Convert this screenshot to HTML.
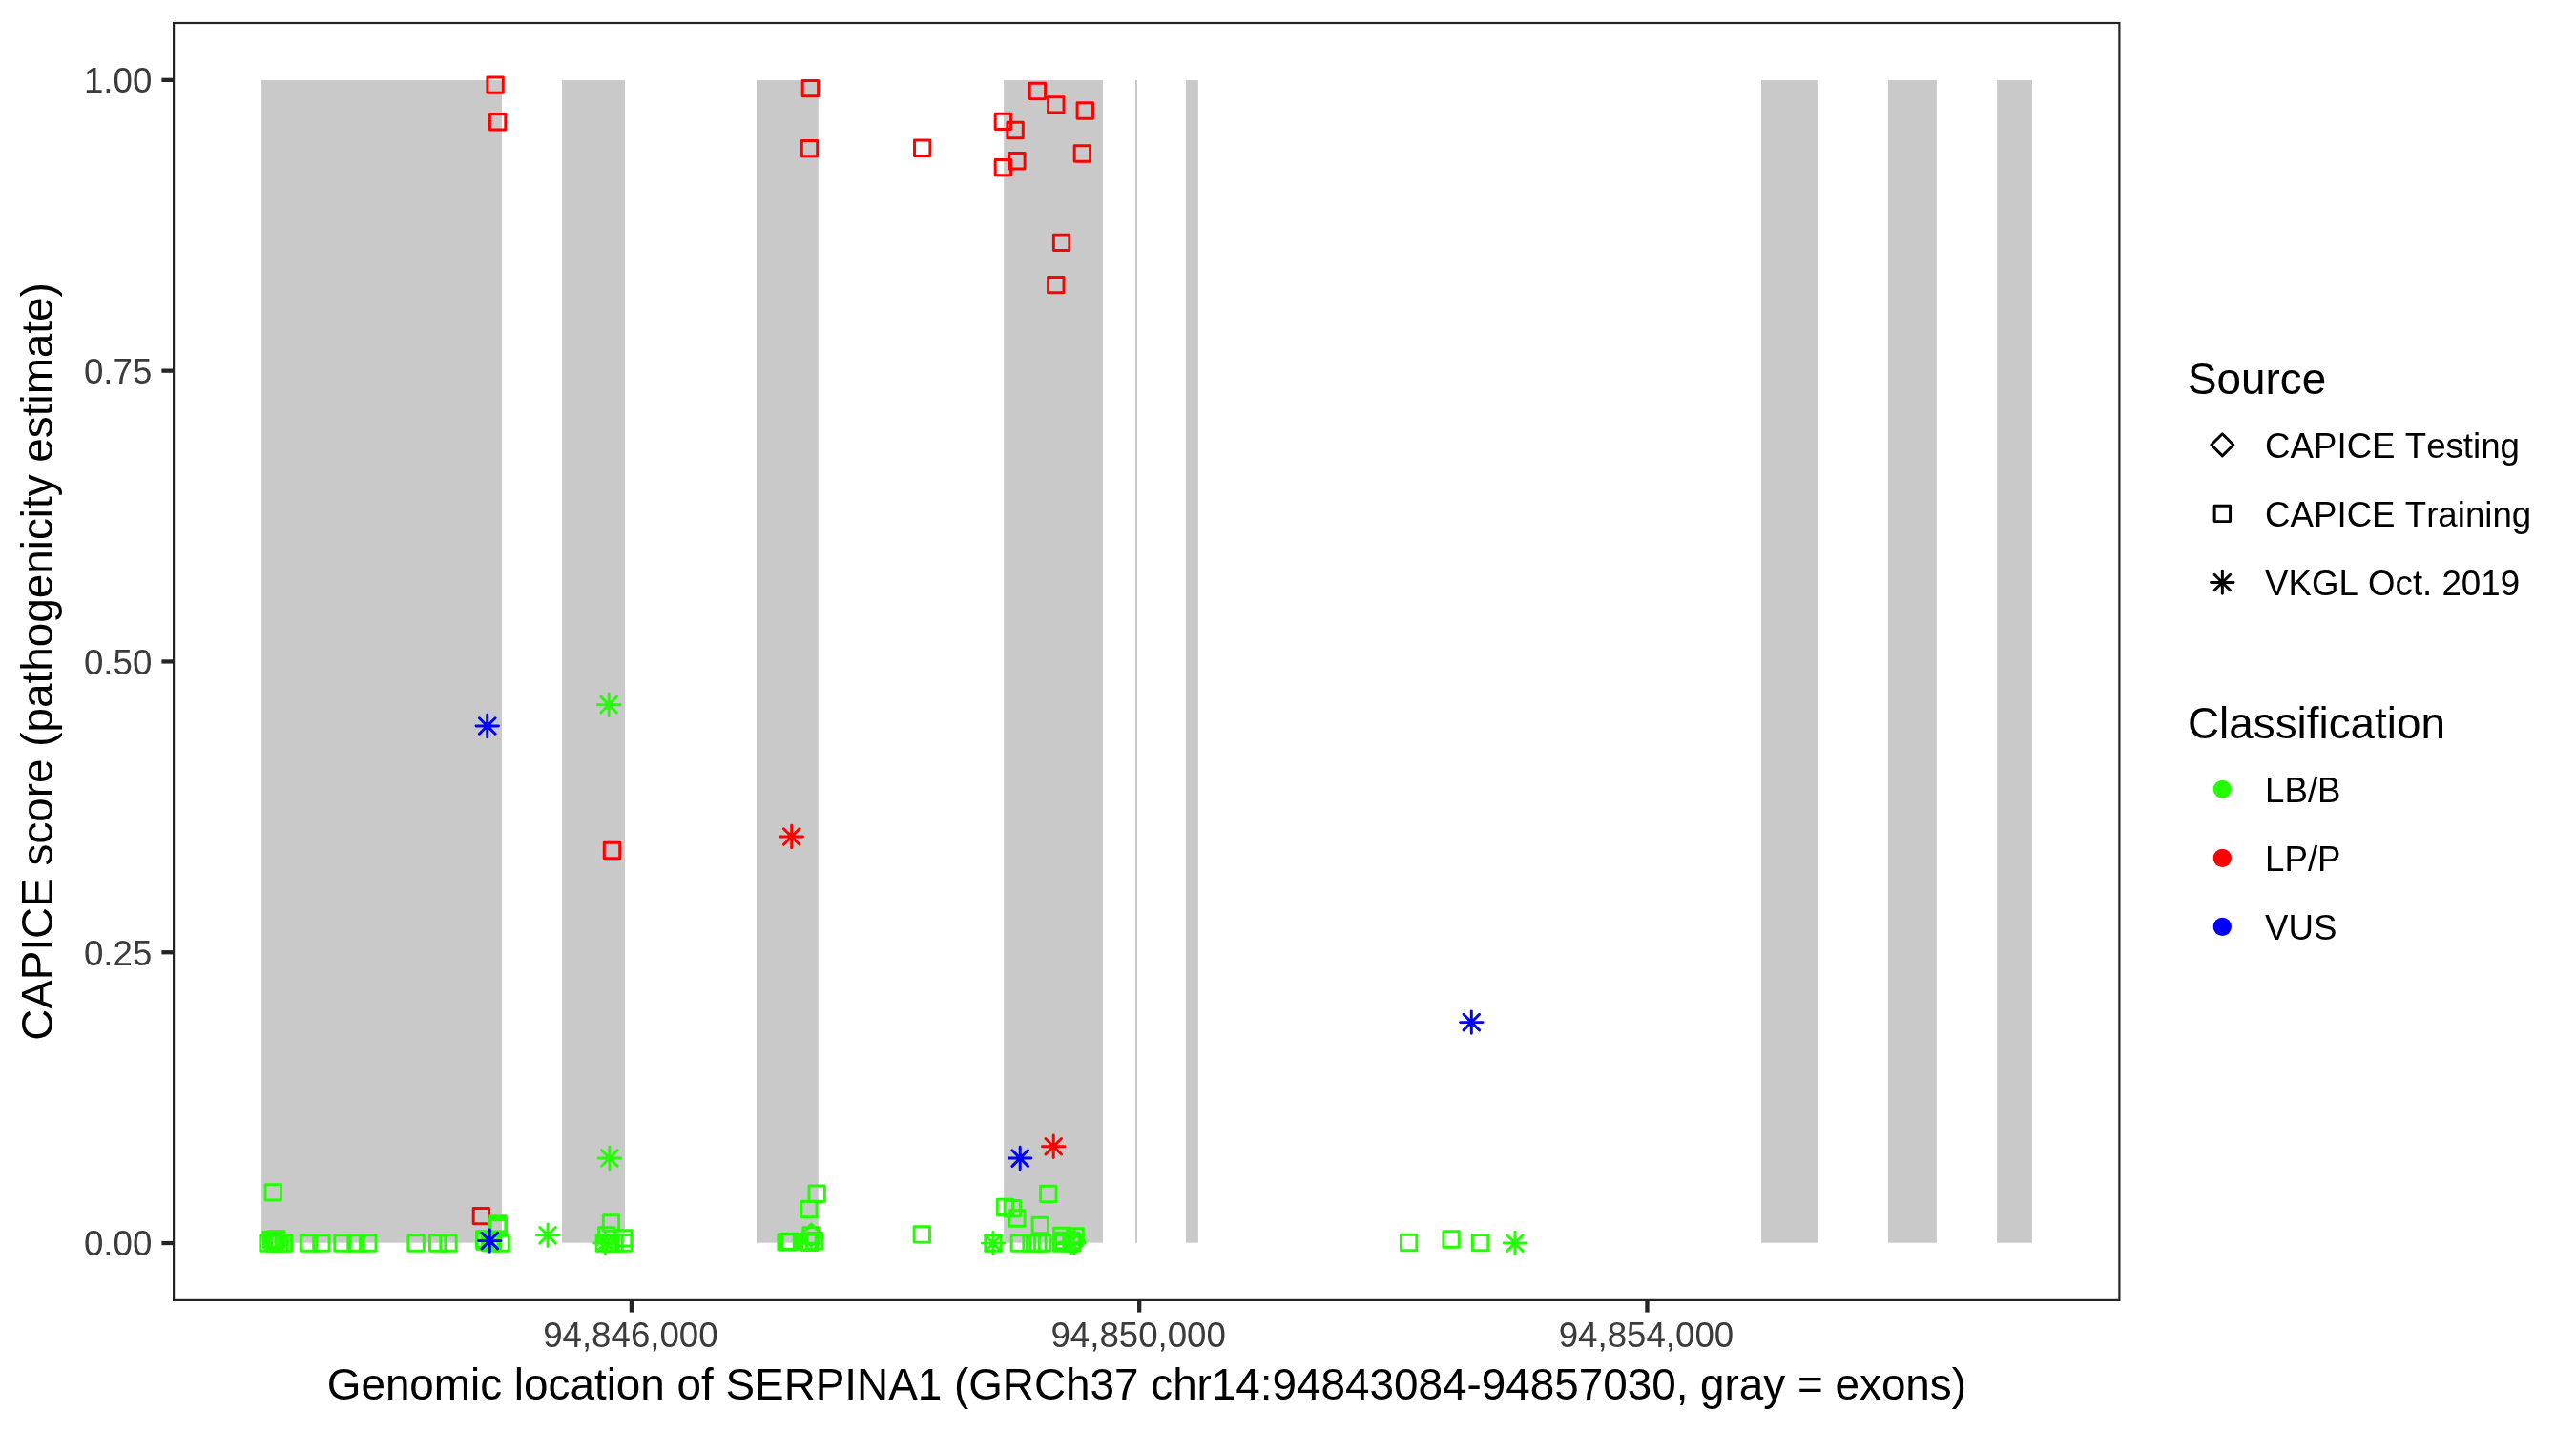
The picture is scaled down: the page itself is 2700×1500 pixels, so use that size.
<!DOCTYPE html>
<html lang="en"><head><meta charset="utf-8"><title>CAPICE score SERPINA1</title>
<style>html,body{margin:0;padding:0;background:#fff}svg{display:block}text{filter:grayscale(1);font-kerning:none}text{font-family:"Liberation Sans",Arial,Helvetica,sans-serif}.at{font-size:36.67px;fill:#3B3B3B}.ti{font-size:45.83px;fill:#000}.lt{font-size:36.67px;fill:#000}.p *{fill:none;stroke-width:2.95;stroke-linejoin:round;stroke-linecap:round}</style></head><body>
<svg width="2700" height="1500" viewBox="0 0 2700 1500">
<rect width="2700" height="1500" fill="#fff"/>
<g fill="#C9C9C9">
<rect x="274.1" y="84.05" width="251.85" height="1218.65"/>
<rect x="589.05" y="84.05" width="65.90" height="1218.65"/>
<rect x="793.0" y="84.05" width="64.75" height="1218.65"/>
<rect x="1052.15" y="84.05" width="103.85" height="1218.65"/>
<rect x="1190.0" y="84.05" width="2.00" height="1218.65"/>
<rect x="1243.0" y="84.05" width="12.90" height="1218.65"/>
<rect x="1846.0" y="84.05" width="59.90" height="1218.65"/>
<rect x="1979.0" y="84.05" width="50.90" height="1218.65"/>
<rect x="2093.1" y="84.05" width="36.85" height="1218.65"/>
</g>
<g class="p">
<rect x="496.20" y="1266.40" width="16.40" height="16.40" stroke="#FF0000"/>
<rect x="278.10" y="1241.60" width="16.40" height="16.40" stroke="#21FF00"/>
<rect x="272.85" y="1294.80" width="16.40" height="16.40" stroke="#21FF00"/>
<rect x="276.10" y="1291.30" width="16.40" height="16.40" stroke="#21FF00"/>
<rect x="278.80" y="1293.00" width="16.40" height="16.40" stroke="#21FF00"/>
<rect x="279.55" y="1294.80" width="16.40" height="16.40" stroke="#21FF00"/>
<rect x="281.75" y="1290.65" width="16.40" height="16.40" stroke="#21FF00"/>
<rect x="284.90" y="1294.80" width="16.40" height="16.40" stroke="#21FF00"/>
<rect x="289.15" y="1294.80" width="16.40" height="16.40" stroke="#21FF00"/>
<rect x="315.30" y="1294.80" width="16.40" height="16.40" stroke="#21FF00"/>
<rect x="328.70" y="1294.80" width="16.40" height="16.40" stroke="#21FF00"/>
<rect x="350.80" y="1294.80" width="16.40" height="16.40" stroke="#21FF00"/>
<rect x="364.80" y="1294.80" width="16.40" height="16.40" stroke="#21FF00"/>
<rect x="377.60" y="1294.80" width="16.40" height="16.40" stroke="#21FF00"/>
<rect x="427.90" y="1294.80" width="16.40" height="16.40" stroke="#21FF00"/>
<rect x="450.40" y="1294.80" width="16.40" height="16.40" stroke="#21FF00"/>
<rect x="461.80" y="1294.80" width="16.40" height="16.40" stroke="#21FF00"/>
<rect x="513.80" y="1274.60" width="16.40" height="16.40" stroke="#21FF00"/>
<rect x="513.80" y="1276.70" width="16.40" height="16.40" stroke="#21FF00"/>
<rect x="513.80" y="1278.80" width="16.40" height="16.40" stroke="#21FF00"/>
<rect x="499.50" y="1290.70" width="16.40" height="16.40" stroke="#21FF00"/>
<rect x="499.70" y="1292.80" width="16.40" height="16.40" stroke="#21FF00"/>
<rect x="505.50" y="1294.30" width="16.40" height="16.40" stroke="#21FF00"/>
<rect x="507.00" y="1294.30" width="16.40" height="16.40" stroke="#21FF00"/>
<rect x="508.40" y="1294.30" width="16.40" height="16.40" stroke="#21FF00"/>
<rect x="516.90" y="1294.80" width="16.40" height="16.40" stroke="#21FF00"/>
<rect x="632.30" y="1273.80" width="16.40" height="16.40" stroke="#21FF00"/>
<rect x="627.58" y="1286.74" width="16.40" height="16.40" stroke="#21FF00"/>
<rect x="645.78" y="1289.65" width="16.40" height="16.40" stroke="#21FF00"/>
<rect x="645.58" y="1294.80" width="16.40" height="16.40" stroke="#21FF00"/>
<rect x="625.19" y="1294.80" width="16.40" height="16.40" stroke="#21FF00"/>
<rect x="631.70" y="1294.80" width="16.40" height="16.40" stroke="#21FF00"/>
<rect x="635.80" y="1294.80" width="16.40" height="16.40" stroke="#21FF00"/>
<rect x="848.00" y="1243.00" width="16.40" height="16.40" stroke="#21FF00"/>
<rect x="839.60" y="1259.25" width="16.40" height="16.40" stroke="#21FF00"/>
<rect x="815.86" y="1293.60" width="16.40" height="16.40" stroke="#21FF00"/>
<rect x="817.80" y="1293.40" width="16.40" height="16.40" stroke="#21FF00"/>
<rect x="819.54" y="1293.20" width="16.40" height="16.40" stroke="#21FF00"/>
<rect x="841.87" y="1286.80" width="16.40" height="16.40" stroke="#21FF00"/>
<rect x="838.75" y="1293.70" width="16.40" height="16.40" stroke="#21FF00"/>
<rect x="845.50" y="1292.50" width="16.40" height="16.40" stroke="#21FF00"/>
<rect x="840.80" y="1294.00" width="16.40" height="16.40" stroke="#21FF00"/>
<rect x="958.10" y="1285.70" width="16.40" height="16.40" stroke="#21FF00"/>
<rect x="1032.80" y="1294.90" width="16.40" height="16.40" stroke="#21FF00"/>
<rect x="1090.60" y="1243.20" width="16.40" height="16.40" stroke="#21FF00"/>
<rect x="1045.30" y="1257.10" width="16.40" height="16.40" stroke="#21FF00"/>
<rect x="1053.10" y="1258.50" width="16.40" height="16.40" stroke="#21FF00"/>
<rect x="1057.70" y="1268.80" width="16.40" height="16.40" stroke="#21FF00"/>
<rect x="1082.10" y="1276.30" width="16.40" height="16.40" stroke="#21FF00"/>
<rect x="1060.10" y="1294.80" width="16.40" height="16.40" stroke="#21FF00"/>
<rect x="1072.85" y="1294.80" width="16.40" height="16.40" stroke="#21FF00"/>
<rect x="1079.70" y="1294.80" width="16.40" height="16.40" stroke="#21FF00"/>
<rect x="1084.65" y="1294.80" width="16.40" height="16.40" stroke="#21FF00"/>
<rect x="1104.30" y="1294.80" width="16.40" height="16.40" stroke="#21FF00"/>
<rect x="1115.40" y="1294.80" width="16.40" height="16.40" stroke="#21FF00"/>
<rect x="1106.70" y="1292.30" width="16.40" height="16.40" stroke="#21FF00"/>
<rect x="1114.80" y="1292.50" width="16.40" height="16.40" stroke="#21FF00"/>
<rect x="1104.60" y="1287.20" width="16.40" height="16.40" stroke="#21FF00"/>
<rect x="1118.95" y="1287.80" width="16.40" height="16.40" stroke="#21FF00"/>
<rect x="1468.40" y="1294.25" width="16.40" height="16.40" stroke="#21FF00"/>
<rect x="1512.90" y="1290.80" width="16.40" height="16.40" stroke="#21FF00"/>
<rect x="1543.36" y="1294.40" width="16.40" height="16.40" stroke="#21FF00"/>
<path d="M838.80 1294.70L850.40 1306.30L862.00 1294.70L850.40 1283.10Z" stroke="#21FF00"/>
<path d="M1114.20 1302.30L1125.80 1313.90L1137.40 1302.30L1125.80 1290.70Z" stroke="#21FF00"/>
<rect x="510.90" y="80.90" width="16.40" height="16.40" stroke="#FF0000"/>
<rect x="513.40" y="119.50" width="16.40" height="16.40" stroke="#FF0000"/>
<rect x="841.20" y="84.40" width="16.40" height="16.40" stroke="#FF0000"/>
<rect x="840.30" y="147.45" width="16.40" height="16.40" stroke="#FF0000"/>
<rect x="958.50" y="147.00" width="16.40" height="16.40" stroke="#FF0000"/>
<rect x="1079.20" y="87.20" width="16.40" height="16.40" stroke="#FF0000"/>
<rect x="1098.60" y="101.60" width="16.40" height="16.40" stroke="#FF0000"/>
<rect x="1129.10" y="107.80" width="16.40" height="16.40" stroke="#FF0000"/>
<rect x="1043.20" y="119.20" width="16.40" height="16.40" stroke="#FF0000"/>
<rect x="1055.90" y="128.30" width="16.40" height="16.40" stroke="#FF0000"/>
<rect x="1126.20" y="152.80" width="16.40" height="16.40" stroke="#FF0000"/>
<rect x="1057.70" y="160.50" width="16.40" height="16.40" stroke="#FF0000"/>
<rect x="1043.20" y="167.40" width="16.40" height="16.40" stroke="#FF0000"/>
<rect x="1104.40" y="246.10" width="16.40" height="16.40" stroke="#FF0000"/>
<rect x="1098.60" y="290.40" width="16.40" height="16.40" stroke="#FF0000"/>
<rect x="633.30" y="883.30" width="16.40" height="16.40" stroke="#FF0000"/>
<path d="M629.90 730.40L646.50 747.00M629.90 747.00L646.50 730.40M626.45 738.70L649.95 738.70M638.20 726.95L638.20 750.45" stroke="#21FF00"/>
<path d="M630.60 1205.66L647.20 1222.26M630.60 1222.26L647.20 1205.66M627.15 1213.96L650.65 1213.96M638.90 1202.21L638.90 1225.71" stroke="#21FF00"/>
<path d="M565.76 1286.50L582.36 1303.10M565.76 1303.10L582.36 1286.50M562.31 1294.80L585.81 1294.80M574.06 1283.05L574.06 1306.55" stroke="#21FF00"/>
<path d="M626.22 1294.64L642.82 1311.24M626.22 1311.24L642.82 1294.64M622.77 1302.94L646.27 1302.94M634.52 1291.19L634.52 1314.69" stroke="#21FF00"/>
<path d="M1032.70 1294.80L1049.30 1311.40M1032.70 1311.40L1049.30 1294.80M1029.25 1303.10L1052.75 1303.10M1041.00 1291.35L1041.00 1314.85" stroke="#21FF00"/>
<path d="M1113.76 1294.00L1130.36 1310.60M1113.76 1310.60L1130.36 1294.00M1110.31 1302.30L1133.81 1302.30M1122.06 1290.55L1122.06 1314.05" stroke="#21FF00"/>
<path d="M504.60 1292.00L521.20 1308.60M504.60 1308.60L521.20 1292.00M501.15 1300.30L524.65 1300.30M512.90 1288.55L512.90 1312.05" stroke="#21FF00"/>
<path d="M1579.60 1294.75L1596.20 1311.35M1579.60 1311.35L1596.20 1294.75M1576.15 1303.05L1599.65 1303.05M1587.90 1291.30L1587.90 1314.80" stroke="#21FF00"/>
<path d="M821.40 868.70L838.00 885.30M821.40 885.30L838.00 868.70M817.95 877.00L841.45 877.00M829.70 865.25L829.70 888.75" stroke="#FF0000"/>
<path d="M1095.90 1193.46L1112.50 1210.06M1095.90 1210.06L1112.50 1193.46M1092.45 1201.76L1115.95 1201.76M1104.20 1190.01L1104.20 1213.51" stroke="#FF0000"/>
<path d="M502.45 752.70L519.05 769.30M502.45 769.30L519.05 752.70M499.00 761.00L522.50 761.00M510.75 749.25L510.75 772.75" stroke="#0000FF"/>
<path d="M505.00 1292.30L521.60 1308.90M505.00 1308.90L521.60 1292.30M501.55 1300.60L525.05 1300.60M513.30 1288.85L513.30 1312.35" stroke="#0000FF"/>
<path d="M1060.90 1205.76L1077.50 1222.36M1060.90 1222.36L1077.50 1205.76M1057.45 1214.06L1080.95 1214.06M1069.20 1202.31L1069.20 1225.81" stroke="#0000FF"/>
<path d="M1534.00 1063.30L1550.60 1079.90M1534.00 1079.90L1550.60 1063.30M1530.55 1071.60L1554.05 1071.60M1542.30 1059.85L1542.30 1083.35" stroke="#0000FF"/>
</g>
<rect x="182.1" y="24.0" width="2039.3" height="1338.8999999999999" fill="none" stroke="#242424" stroke-width="2.2"/>
<g stroke="#242424" stroke-width="4.3" fill="none">
<path d="M169.40 1303.04H181.5"/>
<path d="M169.40 998.24H181.5"/>
<path d="M169.40 693.44H181.5"/>
<path d="M169.40 388.64H181.5"/>
<path d="M169.40 83.84H181.5"/>
<path d="M661.90 1363.5V1375.60"/>
<path d="M1194.18 1363.5V1375.60"/>
<path d="M1726.46 1363.5V1375.60"/>
</g>
<text class="at" x="159.3" y="1316.34" text-anchor="end">0.00</text>
<text class="at" x="159.3" y="1011.54" text-anchor="end">0.25</text>
<text class="at" x="159.3" y="706.74" text-anchor="end">0.50</text>
<text class="at" x="159.3" y="401.94" text-anchor="end">0.75</text>
<text class="at" x="159.3" y="97.14" text-anchor="end">1.00</text>
<text class="at" x="660.90" y="1411.9" text-anchor="middle">94,846,000</text>
<text class="at" x="1193.18" y="1411.9" text-anchor="middle">94,850,000</text>
<text class="at" x="1725.46" y="1411.9" text-anchor="middle">94,854,000</text>
<text class="ti" x="1201.9" y="1466.6" text-anchor="middle">Genomic location of SERPINA1 (GRCh37 chr14:94843084-94857030, gray = exons)</text>
<text class="ti" transform="translate(55 693.5) rotate(-90)" text-anchor="middle">CAPICE score (pathogenicity estimate)</text>
<text class="ti" x="2293.0" y="412.8">Source</text>
<text class="ti" x="2293.0" y="774.1">Classification</text>
<g class="p">
<path d="M2317.75 466.30L2329.35 477.90L2340.95 466.30L2329.35 454.70Z" stroke="#000"/>
<rect x="2321.15" y="530.20" width="16.40" height="16.40" stroke="#000"/>
<path d="M2321.05 602.20L2337.65 618.80M2321.05 618.80L2337.65 602.20M2317.60 610.50L2341.10 610.50M2329.35 598.75L2329.35 622.25" stroke="#000"/>
</g>
<text class="lt" x="2374.1" y="479.9">CAPICE Testing</text>
<text class="lt" x="2374.1" y="551.9">CAPICE Training</text>
<text class="lt" x="2374.1" y="624.1">VKGL Oct. 2019</text>
<circle cx="2329.35" cy="827.3" r="9.6" fill="#21FF00"/>
<circle cx="2329.35" cy="899.4" r="9.6" fill="#FF0000"/>
<circle cx="2329.35" cy="971.4" r="9.6" fill="#0000FF"/>
<text class="lt" x="2374.1" y="840.5">LB/B</text>
<text class="lt" x="2374.1" y="912.5">LP/P</text>
<text class="lt" x="2374.1" y="984.6">VUS</text>
</svg></body></html>
